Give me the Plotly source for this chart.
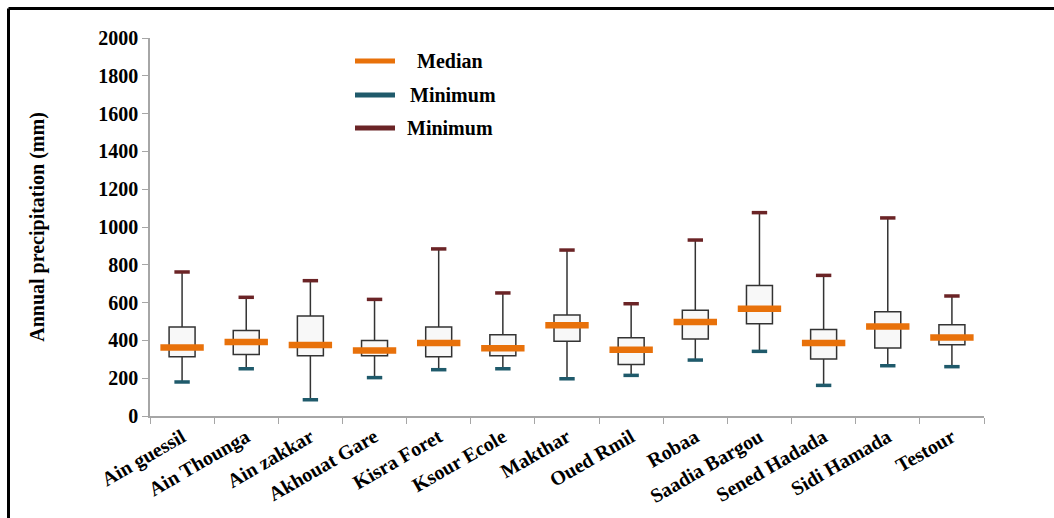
import plotly.graph_objects as go

stations = ["Ain guessil", "Ain Thounga", "Ain zakkar", "Akhouat Gare", "Kisra Foret",
            "Ksour Ecole", "Makthar", "Oued Rmil", "Robaa", "Saadia Bargou",
            "Sened Hadada", "Sidi Hamada", "Testour"]
minimum = [180, 250, 86, 203, 245, 250, 197, 215, 296, 342, 162, 266, 261]
q1 = [314, 326, 319, 319, 314, 319, 395, 273, 407, 488, 302, 360, 377]
median = [363, 392, 376, 346, 386, 358, 480, 351, 497, 568, 386, 474, 416]
q3 = [471, 453, 529, 400, 471, 430, 534, 414, 559, 691, 458, 552, 483]
maximum = [762, 628, 716, 617, 884, 651, 878, 594, 931, 1076, 744, 1048, 635]

legend_labels = ["Median", "Minimum", "Minimum"]

ORANGE = "#e8710a"
TEAL = "#1f5a6b"
MAROON = "#6b2426"
FONT = "Liberation Serif"

W, H = 1054, 518
L, R, T, B = 150, 70, 38, 102
PW, PH = W - L - R, H - T - B


def px(x):
    return (x - L) / PW


def py(y):
    return (H - B - y) / PH


fig = go.Figure()

fig.add_trace(go.Box(
    x=stations, q1=q1, median=median, q3=q3,
    lowerfence=minimum, upperfence=maximum,
    fillcolor="#f8f8f8", line=dict(color="#333333", width=1.5),
    whiskerwidth=0, width=0.405, showlegend=False, hoverinfo="skip",
))

fig.add_trace(go.Scatter(
    x=stations, y=median, mode="markers", name=legend_labels[0],
    marker=dict(symbol="line-ew", size=31, color=ORANGE,
                line=dict(color=ORANGE, width=6.5)),
    showlegend=False,
))
fig.add_trace(go.Scatter(
    x=stations, y=minimum, mode="markers", name=legend_labels[1],
    marker=dict(symbol="line-ew", size=11, color=TEAL,
                line=dict(color=TEAL, width=3.5)),
    showlegend=False,
))
fig.add_trace(go.Scatter(
    x=stations, y=maximum, mode="markers", name=legend_labels[2],
    marker=dict(symbol="line-ew", size=11, color=MAROON,
                line=dict(color=MAROON, width=3.5)),
    showlegend=False,
))

# hand-drawn legend (line sample + label)
shapes = []
annotations = []
leg_rows = [(61, ORANGE, 415), (95, TEAL, 408), (128, MAROON, 405)]
for (yy, col, tx), lab in zip(leg_rows, legend_labels):
    shapes.append(dict(type="line", xref="paper", yref="paper",
                       x0=px(355), x1=px(395), y0=py(yy), y1=py(yy),
                       line=dict(color=col, width=5)))
    annotations.append(dict(xref="paper", yref="paper", x=px(tx), y=py(yy),
                            xanchor="left", yanchor="middle", showarrow=False,
                            text=lab,
                            font=dict(family=FONT, size=20, color="black",
                                      weight="bold")))

# frame lines
shapes.append(dict(type="line", xref="paper", yref="paper", x0=px(8.5), x1=px(8.5),
                   y0=py(8.5), y1=py(530), line=dict(color="black", width=3)))
shapes.append(dict(type="line", xref="paper", yref="paper", x0=px(8.5), x1=px(1060),
                   y0=py(8.5), y1=py(8.5), line=dict(color="black", width=3)))

tickfont = dict(family=FONT, size=20, color="black", weight="bold")

fig.update_layout(
    width=W, height=H,
    margin=dict(l=L, r=R, t=T, b=B),
    plot_bgcolor="white", paper_bgcolor="white",
    font=dict(family=FONT, size=20, color="black"),
    showlegend=False,
    xaxis=dict(
        type="category", categoryorder="array", categoryarray=stations,
        range=[-0.5, len(stations) - 0.5],
        showline=True, linecolor="#a6a6a6", linewidth=1.5,
        ticks="outside", tickcolor="#a6a6a6", ticklen=6, tickson="boundaries",
        tickangle=-30, showgrid=False, zeroline=False, automargin=False,
        tickfont=tickfont,
    ),
    yaxis=dict(
        range=[0, 2000], dtick=200, tick0=0,
        showline=True, linecolor="#a6a6a6", linewidth=1.5,
        ticks="outside", tickcolor="#a6a6a6", ticklen=6,
        showgrid=False, zeroline=False, automargin=False,
        tickfont=tickfont,
        title=dict(text="Annual precipitation (mm)", standoff=48,
                   font=dict(family=FONT, size=20, color="black", weight="bold")),
    ),
    shapes=shapes,
    annotations=annotations,
)

fig.write_html(
    "out.html",
    config={"displayModeBar": False},
    post_script="document.body.style.margin='0';document.body.style.overflow='hidden';",
)
